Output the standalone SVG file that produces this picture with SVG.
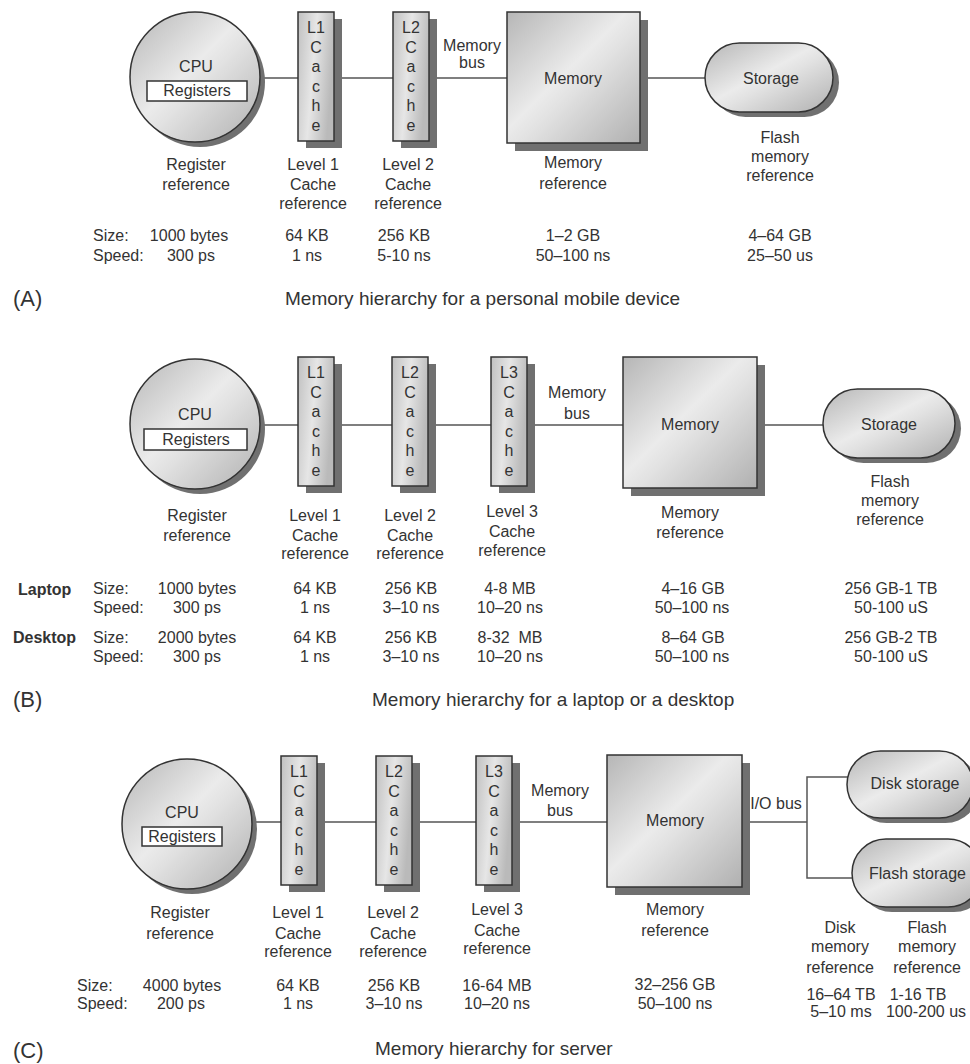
<svg xmlns="http://www.w3.org/2000/svg" width="970" height="1064" viewBox="0 0 970 1064">
<defs>
<linearGradient id="g" x1="0" y1="0" x2="1" y2="1">
<stop offset="0" stop-color="#b6b6b6"/>
<stop offset="0.45" stop-color="#ebebeb"/>
<stop offset="0.55" stop-color="#e2e2e2"/>
<stop offset="1" stop-color="#b0b0b0"/>
</linearGradient>
<linearGradient id="gc" x1="0" y1="0" x2="1" y2="0.3">
<stop offset="0" stop-color="#c0c0c0"/>
<stop offset="0.5" stop-color="#e6e6e6"/>
<stop offset="1" stop-color="#bababa"/>
</linearGradient>
</defs>
<style>
text { font-family: "Liberation Sans", Arial, Helvetica, sans-serif; font-size: 16px; fill: #333; text-anchor: middle; }
.s { text-anchor: start; }
.cap { font-size: 19px; text-anchor: start; }
.pl { font-size: 22px; text-anchor: start; }
.b { font-weight: bold; }
.n { fill: url(#g); stroke: #333; stroke-width: 1.5; }
.c { fill: url(#gc); stroke: #333; stroke-width: 1.5; }
.sh { fill: #707070; }
.reg { fill: #fff; stroke: #333; stroke-width: 1.5; }
.ln { stroke: #555; stroke-width: 1.5; fill: none; }
</style>
<rect width="970" height="1064" fill="#fff"/>

<g id="connectors">
<!-- A -->
<line class="ln" x1="255" y1="78" x2="298" y2="78"/>
<line class="ln" x1="334" y1="78" x2="393" y2="78"/>
<line class="ln" x1="429" y1="78" x2="507" y2="78"/>
<line class="ln" x1="640" y1="78" x2="705" y2="78"/>
<!-- B -->
<line class="ln" x1="255" y1="425" x2="298" y2="425"/>
<line class="ln" x1="334" y1="425" x2="392" y2="425"/>
<line class="ln" x1="428" y1="425" x2="491" y2="425"/>
<line class="ln" x1="527" y1="425" x2="623" y2="425"/>
<line class="ln" x1="757" y1="425" x2="823" y2="425"/>
<!-- C -->
<line class="ln" x1="247" y1="822" x2="281" y2="822"/>
<line class="ln" x1="317" y1="822" x2="376" y2="822"/>
<line class="ln" x1="412" y1="822" x2="476" y2="822"/>
<line class="ln" x1="512" y1="822" x2="607" y2="822"/>
<polyline class="ln" points="742,822 807,822"/>
<polyline class="ln" points="850,777 807,777 807,878 855,878"/>
</g>

<!-- ========== Panel A ========== -->
<g id="cpuA">
<circle class="sh" cx="200" cy="82" r="65"/>
<circle class="n" cx="195" cy="77" r="65"/>
<rect class="reg" x="147" y="81" width="100" height="20"/>
<text x="196" y="72">CPU</text>
<text x="197" y="96">Registers</text>
</g>
<g id="l1A">
<rect class="sh" x="306" y="19" width="36" height="129"/>
<rect class="c" x="298" y="12" width="36" height="129"/>
<text x="316" y="33">L1</text><text x="316" y="52.5">C</text><text x="316" y="72">a</text><text x="316" y="91.5">c</text><text x="316" y="111">h</text><text x="316" y="130.5">e</text>
</g>
<g id="l2A">
<rect class="sh" x="401" y="19" width="36" height="129"/>
<rect class="c" x="393" y="12" width="36" height="129"/>
<text x="411" y="33">L2</text><text x="411" y="52.5">C</text><text x="411" y="72">a</text><text x="411" y="91.5">c</text><text x="411" y="111">h</text><text x="411" y="130.5">e</text>
</g>
<g id="busA">
<text x="472" y="51">Memory</text>
<text x="472" y="68">bus</text>
</g>
<g id="memA">
<rect class="sh" x="515" y="20" width="133" height="131"/>
<rect class="n" x="507" y="12" width="133" height="131"/>
<text x="573" y="84">Memory</text>
</g>
<g id="stoA">
<rect class="sh" x="711" y="48" width="128" height="69" rx="34.5"/>
<rect class="n" x="705" y="43" width="128" height="69" rx="34.5"/>
<text x="771" y="84">Storage</text>
</g>
<g id="labelsA">
<text x="196" y="170">Register</text><text x="196" y="190">reference</text>
<text x="313" y="170">Level 1</text><text x="313" y="190">Cache</text><text x="313" y="209">reference</text>
<text x="408" y="170">Level 2</text><text x="408" y="190">Cache</text><text x="408" y="209">reference</text>
<text x="573" y="168">Memory</text><text x="573" y="189">reference</text>
<text x="780" y="143">Flash</text><text x="780" y="162">memory</text><text x="780" y="181">reference</text>
<text class="s" x="93" y="241">Size:</text><text class="s" x="93" y="261">Speed:</text>
<text x="189" y="241">1000 bytes</text><text x="191" y="261">300 ps</text>
<text x="307" y="241">64 KB</text><text x="307" y="261">1 ns</text>
<text x="404" y="241">256 KB</text><text x="404" y="261">5-10 ns</text>
<text x="573" y="241">1–2 GB</text><text x="573" y="261">50–100 ns</text>
<text x="780" y="241">4–64 GB</text><text x="780" y="261">25–50 us</text>
<text class="pl" x="13" y="306">(A)</text>
<text class="cap" x="285" y="305">Memory hierarchy for a personal mobile device</text>
</g>

<!-- ========== Panel B ========== -->
<g id="cpuB">
<circle class="sh" cx="200" cy="429" r="65"/>
<circle class="n" cx="195" cy="424" r="65"/>
<rect class="reg" x="144" y="429" width="103" height="21"/>
<text x="195" y="420">CPU</text>
<text x="196" y="445">Registers</text>
</g>
<g id="l1B">
<rect class="sh" x="306" y="364" width="36" height="129"/>
<rect class="c" x="298" y="357" width="36" height="129"/>
<text x="316" y="378">L1</text><text x="316" y="397.5">C</text><text x="316" y="417">a</text><text x="316" y="436.5">c</text><text x="316" y="456">h</text><text x="316" y="475.5">e</text>
</g>
<g id="l2B">
<rect class="sh" x="400" y="364" width="36" height="129"/>
<rect class="c" x="392" y="357" width="36" height="129"/>
<text x="410" y="378">L2</text><text x="410" y="397.5">C</text><text x="410" y="417">a</text><text x="410" y="436.5">c</text><text x="410" y="456">h</text><text x="410" y="475.5">e</text>
</g>
<g id="l3B">
<rect class="sh" x="499" y="364" width="36" height="129"/>
<rect class="c" x="491" y="357" width="36" height="129"/>
<text x="509" y="378">L3</text><text x="509" y="397.5">C</text><text x="509" y="417">a</text><text x="509" y="436.5">c</text><text x="509" y="456">h</text><text x="509" y="475.5">e</text>
</g>
<g id="busB">
<text x="577" y="398">Memory</text>
<text x="577" y="419">bus</text>
</g>
<g id="memB">
<rect class="sh" x="631" y="365" width="134" height="131"/>
<rect class="n" x="623" y="357" width="134" height="131"/>
<text x="690" y="430">Memory</text>
</g>
<g id="stoB">
<rect class="sh" x="829" y="394" width="132" height="69" rx="34.5"/>
<rect class="n" x="823" y="389" width="132" height="69" rx="34.5"/>
<text x="889" y="430">Storage</text>
</g>
<g id="labelsB">
<text x="197" y="521">Register</text><text x="197" y="541">reference</text>
<text x="315" y="521">Level 1</text><text x="315" y="541">Cache</text><text x="315" y="559">reference</text>
<text x="410" y="521">Level 2</text><text x="410" y="541">Cache</text><text x="410" y="559">reference</text>
<text x="512" y="517">Level 3</text><text x="512" y="537">Cache</text><text x="512" y="556">reference</text>
<text x="690" y="518">Memory</text><text x="690" y="538">reference</text>
<text x="890" y="487">Flash</text><text x="890" y="506">memory</text><text x="890" y="525">reference</text>
<text class="s b" x="18" y="595">Laptop</text>
<text class="s" x="93" y="594">Size:</text><text class="s" x="93" y="613">Speed:</text>
<text x="197" y="594">1000 bytes</text><text x="197" y="613">300 ps</text>
<text x="315" y="594">64 KB</text><text x="315" y="613">1 ns</text>
<text x="411" y="594">256 KB</text><text x="411" y="613">3–10 ns</text>
<text x="510" y="594">4-8 MB</text><text x="510" y="613">10–20 ns</text>
<text x="693" y="594">4–16 GB</text><text x="692" y="613">50–100 ns</text>
<text x="891" y="594">256 GB-1 TB</text><text x="891" y="613">50-100 uS</text>
<text class="s b" x="13" y="643">Desktop</text>
<text class="s" x="93" y="643">Size:</text><text class="s" x="93" y="662">Speed:</text>
<text x="197" y="643">2000 bytes</text><text x="197" y="662">300 ps</text>
<text x="315" y="643">64 KB</text><text x="315" y="662">1 ns</text>
<text x="411" y="643">256 KB</text><text x="411" y="662">3–10 ns</text>
<text x="510" y="643">8-32&#160; MB</text><text x="510" y="662">10–20 ns</text>
<text x="693" y="643">8–64 GB</text><text x="692" y="662">50–100 ns</text>
<text x="891" y="643">256 GB-2 TB</text><text x="891" y="662">50-100 uS</text>
<text class="pl" x="13" y="707">(B)</text>
<text class="cap" x="372" y="706">Memory hierarchy for a laptop or a desktop</text>
</g>

<!-- ========== Panel C ========== -->
<g id="cpuC">
<circle class="sh" cx="192" cy="829" r="65"/>
<circle class="n" cx="187" cy="824" r="65"/>
<rect class="reg" x="142" y="827" width="80" height="19"/>
<text x="182" y="818">CPU</text>
<text x="182" y="842">Registers</text>
</g>
<g id="l1C">
<rect class="sh" x="289" y="763" width="36" height="129"/>
<rect class="c" x="281" y="756" width="36" height="129"/>
<text x="299" y="777">L1</text><text x="299" y="796.5">C</text><text x="299" y="816">a</text><text x="299" y="835.5">c</text><text x="299" y="855">h</text><text x="299" y="874.5">e</text>
</g>
<g id="l2C">
<rect class="sh" x="384" y="763" width="36" height="129"/>
<rect class="c" x="376" y="756" width="36" height="129"/>
<text x="394" y="777">L2</text><text x="394" y="796.5">C</text><text x="394" y="816">a</text><text x="394" y="835.5">c</text><text x="394" y="855">h</text><text x="394" y="874.5">e</text>
</g>
<g id="l3C">
<rect class="sh" x="484" y="763" width="36" height="129"/>
<rect class="c" x="476" y="756" width="36" height="129"/>
<text x="494" y="777">L3</text><text x="494" y="796.5">C</text><text x="494" y="816">a</text><text x="494" y="835.5">c</text><text x="494" y="855">h</text><text x="494" y="874.5">e</text>
</g>
<g id="busC">
<text x="560" y="796">Memory</text>
<text x="560" y="816">bus</text>
</g>
<g id="memC">
<rect class="sh" x="615" y="763" width="135" height="132"/>
<rect class="n" x="607" y="755" width="135" height="132"/>
<text x="675" y="826">Memory</text>
</g>
<g id="iobus">
<text x="776" y="809">I/O bus</text>
</g>
<g id="diskC">
<rect class="sh" x="853" y="756" width="126" height="67" rx="33.5"/>
<rect class="n" x="847" y="751" width="126" height="67" rx="33.5"/>
<text x="915" y="789">Disk storage</text>
</g>
<g id="flashC">
<rect class="sh" x="858" y="844" width="130" height="68" rx="34"/>
<rect class="n" x="852" y="839" width="130" height="68" rx="34"/>
<text class="s" x="869" y="879">Flash storage</text>
</g>
<g id="labelsC">
<text x="180" y="918">Register</text><text x="180" y="939">reference</text>
<text x="298" y="918">Level 1</text><text x="298" y="939">Cache</text><text x="298" y="957">reference</text>
<text x="393" y="918">Level 2</text><text x="393" y="939">Cache</text><text x="393" y="957">reference</text>
<text x="497" y="915">Level 3</text><text x="497" y="936">Cache</text><text x="497" y="954">reference</text>
<text x="675" y="915">Memory</text><text x="675" y="936">reference</text>
<text x="840" y="933">Disk</text><text x="840" y="952">memory</text><text x="840" y="973">reference</text>
<text x="927" y="933">Flash</text><text x="927" y="952">memory</text><text x="927" y="973">reference</text>
<text class="s" x="77" y="991">Size:</text><text class="s" x="77" y="1009">Speed:</text>
<text x="182" y="991">4000 bytes</text><text x="181" y="1009">200 ps</text>
<text x="298" y="991">64 KB</text><text x="298" y="1009">1 ns</text>
<text x="394" y="991">256 KB</text><text x="394" y="1009">3–10 ns</text>
<text x="497" y="991">16-64 MB</text><text x="497" y="1009">10–20 ns</text>
<text x="675" y="990">32–256 GB</text><text x="675" y="1009">50–100 ns</text>
<text x="841" y="1000">16–64 TB</text><text x="841" y="1017">5–10 ms</text>
<text x="918" y="1000">1-16 TB</text><text x="926" y="1017">100-200 us</text>
<text class="pl" x="13" y="1058">(C)</text>
<text class="cap" x="375" y="1055">Memory hierarchy for server</text>
</g>
</svg>
